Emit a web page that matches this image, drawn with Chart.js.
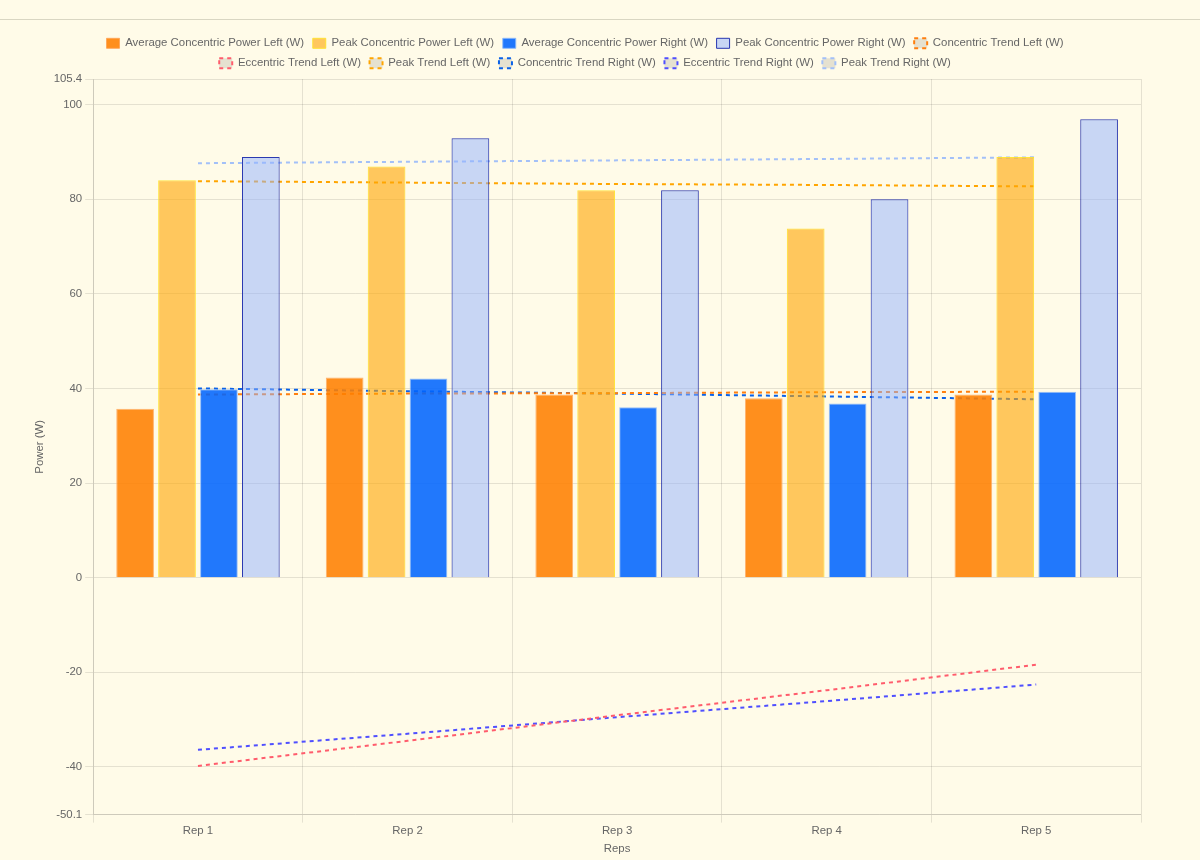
<!DOCTYPE html>
<html>
<head>
<meta charset="utf-8">
<script src="https://cdn.jsdelivr.net/npm/chart.js@4.4.1/dist/chart.umd.min.js"></script>
<style>
  html, body { margin: 0; padding: 0; background: #fffbe8; }
  .top { height: 19px; border-bottom: 1px solid #d9d6c2; }
  .wrap { width: 1200px; height: 840px; }
</style>
</head>
<body>
<div class="top"></div>
<div class="wrap"><canvas id="myChart"></canvas></div>
<script>
var reps = ["Rep 1", "Rep 2", "Rep 3", "Rep 4", "Rep 5"];

var avgLeft  = [35.7, 42.3, 38.7, 37.9, 38.7];
var peakLeft = [84.0, 86.9, 81.9, 73.8, 88.9];
var avgRight = [39.8, 42.1, 36.0, 36.8, 39.3];
var peakRight = [88.9, 92.9, 81.9, 80.0, 96.9];

var concTrendLeft  = [38.7, 38.9, 39.0, 39.2, 39.3];
var eccTrendLeft   = [-39.8, -34.5, -29.1, -23.8, -18.4];
var peakTrendLeft  = [83.8, 83.5, 83.2, 83.0, 82.7];
var concTrendRight = [40.0, 39.4, 38.9, 38.3, 37.7];
var eccTrendRight  = [-36.4, -33.0, -29.5, -26.1, -22.6];
var peakTrendRight = [87.6, 87.9, 88.2, 88.5, 88.85];

var yMin = -50.1;
var yMax = 105.4;

Chart.defaults.font.family = 'Arial, "Liberation Sans", sans-serif';
Chart.defaults.font.size = 11.4;
Chart.defaults.color = '#666';

function trend(label, data, color) {
    return {
        type: 'line',
        label: label,
        data: data,
        borderColor: color,
        borderWidth: 2,
        borderDash: [4, 4],
        pointRadius: 0,
        fill: false
    };
}

var ctx = document.getElementById('myChart').getContext('2d');
var chart = new Chart(ctx, {
    type: 'bar',
    data: {
        labels: reps,
        datasets: [{
            label: "Average Concentric Power Left (W)",
            data: avgLeft,
            backgroundColor: 'rgba(255,127,0,0.88)',
            borderColor: 'rgba(255,160,80,0.8)',
            borderWidth: 1
        },
        {
            label: "Peak Concentric Power Left (W)",
            data: peakLeft,
            backgroundColor: 'rgba(255,165,0,0.6)',
            borderColor: 'rgba(255,225,40,0.9)',
            borderWidth: 1
        },
        {
            label: "Average Concentric Power Right (W)",
            data: avgRight,
            backgroundColor: 'rgba(0,100,255,0.87)',
            borderColor: 'rgba(140,185,250,0.9)',
            borderWidth: 1
        },
        {
            label: "Peak Concentric Power Right (W)",
            data: peakRight,
            backgroundColor: 'rgba(145,177,255,0.5)',
            borderColor: 'rgba(20,35,170,0.9)',
            borderWidth: 1
        },
        trend("Concentric Trend Left (W)", concTrendLeft, '#ff7f0e'),
        trend("Eccentric Trend Left (W)", eccTrendLeft, '#ff5c6c'),
        trend("Peak Trend Left (W)", peakTrendLeft, '#ffa500'),
        trend("Concentric Trend Right (W)", concTrendRight, '#0a62e8'),
        trend("Eccentric Trend Right (W)", eccTrendRight, '#4f4fff'),
        trend("Peak Trend Right (W)", peakTrendRight, '#a3c0f8')
        ]
    },
    options: {
        responsive: true,
        maintainAspectRatio: false,
        animation: false,
        layout: { padding: { left: 29, right: 59, top: 9, bottom: 0 } },
        plugins: {
            legend: {
                position: 'top',
                labels: { boxWidth: 13, boxHeight: 10, padding: 8.6 }
            }
        },
        scales: {
            x: {
                ticks: { padding: 1 },
                title: { display: true, text: 'Reps' }
            },
            y: {
                min: yMin,
                max: yMax,
                ticks: { stepSize: 20 },
                title: { display: true, text: 'Power (W)' }
            }
        }
    }
});
</script>
</body>
</html>
